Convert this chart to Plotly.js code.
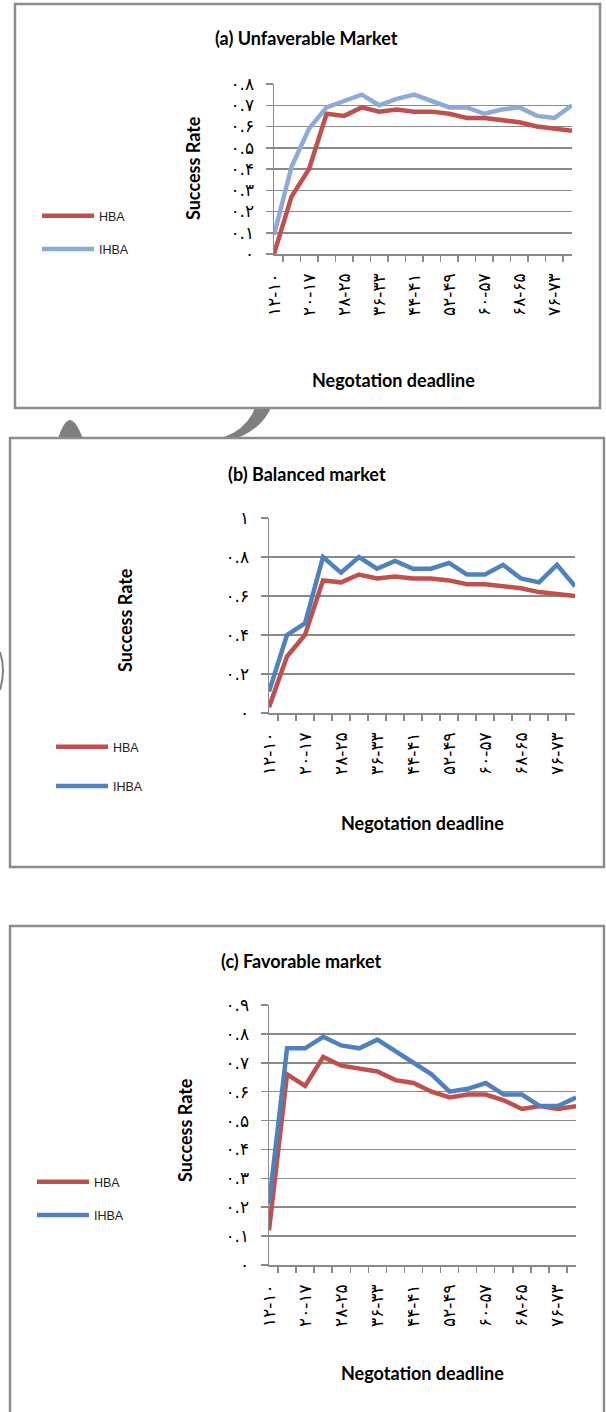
<!DOCTYPE html>
<html>
<head>
<meta charset="utf-8">
<script src="https://cdn.plot.ly/plotly-3.0.1.min.js"></script>
<style>html,body{margin:0;padding:0;background:#fff;}#chart{width:606px;height:1412px;}</style>
</head>
<body>
<div id="chart"></div>
<script>
// ---------------- data ----------------
const categories = ['۱۲-۱۰','۱۶-۱۳','۲۰-۱۷','۲۴-۲۱','۲۸-۲۵','۳۲-۲۹','۳۶-۳۳','۴۰-۳۷','۴۴-۴۱',
                    '۴۸-۴۵','۵۲-۴۹','۵۶-۵۳','۶۰-۵۷','۶۴-۶۱','۶۸-۶۵','۷۲-۶۹','۷۶-۷۳','۸۰-۷۷'];

const hbaUnfav  = [0.00,0.27,0.40,0.66,0.65,0.69,0.67,0.68,0.67,0.67,0.66,0.64,0.64,0.63,0.62,0.60,0.59,0.58];
const ihbaUnfav = [0.09,0.41,0.59,0.69,0.72,0.75,0.70,0.73,0.75,0.72,0.69,0.69,0.66,0.68,0.69,0.65,0.64,0.70];

const hbaBal  = [0.03,0.29,0.40,0.68,0.67,0.71,0.69,0.70,0.69,0.69,0.68,0.66,0.66,0.65,0.64,0.62,0.61,0.60];
const ihbaBal = [0.11,0.40,0.46,0.80,0.72,0.80,0.74,0.78,0.74,0.74,0.77,0.71,0.71,0.76,0.69,0.67,0.76,0.65];

const hbaFav  = [0.12,0.66,0.62,0.72,0.69,0.68,0.67,0.64,0.63,0.60,0.58,0.59,0.59,0.57,0.54,0.55,0.54,0.55];
const ihbaFav = [0.21,0.75,0.75,0.79,0.76,0.75,0.78,0.74,0.70,0.66,0.60,0.61,0.63,0.59,0.59,0.55,0.55,0.58];

const seriesNames = ['HBA','IHBA'];
const panelTitles = ['(a) Unfaverable Market','(b) Balanced market','(c) Favorable market'];
const yAxisTitle = 'Success Rate';
const xAxisTitle = 'Negotation deadline';

const yTickValsA = [0,0.1,0.2,0.3,0.4,0.5,0.6,0.7,0.8];
const yTickTextA = ['۰','۰.۱','۰.۲','۰.۳','۰.۴','۰.۵','۰.۶','۰.۷','۰.۸'];
const yTickValsB = [0,0.2,0.4,0.6,0.8,1];
const yTickTextB = ['۰','۰.۲','۰.۴','۰.۶','۰.۸','۱'];
const yTickValsC = [0,0.1,0.2,0.3,0.4,0.5,0.6,0.7,0.8,0.9];
const yTickTextC = ['۰','۰.۱','۰.۲','۰.۳','۰.۴','۰.۵','۰.۶','۰.۷','۰.۸','۰.۹'];

// ---------------- layout helpers ----------------
const W = 606, H = 1412;
const px = x => x / W;
const py = y => 1 - y / H;

const RED = '#c0504d';
const BLUE_LIGHT = '#8eaad6';
const BLUE = '#4f81bd';
const GRID = '#8a8a8a';
const BOX = '#8c8c8c';
const TITLE_FONT = 'Lato';

const xTickText = categories.map((c, i) => (i % 2 === 0 ? c : ''));

function xAxis(x0, x1, anchor) {
  return {
    domain: [px(x0), px(x1)], anchor: anchor, type: 'category',
    categoryorder: 'array', categoryarray: categories,
    tickmode: 'array', tickvals: categories, ticktext: xTickText,
    tickson: 'boundaries', ticks: 'outside', ticklen: 6, tickwidth: 1.5, tickcolor: GRID,
    tickangle: -90, ticklabelstandoff: 11,
    tickfont: {family: 'DejaVu Sans', size: 17, color: '#000'},
    showline: true, linecolor: GRID, linewidth: 1.5, showgrid: false, zeroline: false,
    fixedrange: true
  };
}
function yAxis(y0, y1, anchor, vals, text, maxv) {
  return {
    domain: [py(y1), py(y0)], anchor: anchor, range: [0, maxv],
    tickmode: 'array', tickvals: vals, ticktext: text,
    ticks: 'outside', ticklen: 7, tickwidth: 1.5, tickcolor: GRID, ticklabelstandoff: 8,
    tickfont: {family: 'DejaVu Sans', size: 17, color: '#000'},
    showline: true, linecolor: GRID, linewidth: 1.5,
    showgrid: true, gridcolor: GRID, gridwidth: 1.5, zeroline: false, fixedrange: true
  };
}

function line(name, y, color, xa, ya, legend) {
  return {
    type: 'scatter', mode: 'lines', name: name, x: categories, y: y,
    xaxis: xa, yaxis: ya, legend: legend, legendgroup: legend + name,
    line: {color: color, width: 4.5}, hoverinfo: 'skip'
  };
}

const data = [
  line(seriesNames[0], hbaUnfav, RED, 'x', 'y', 'legend'),
  line(seriesNames[1], ihbaUnfav, BLUE_LIGHT, 'x', 'y', 'legend'),
  line(seriesNames[0], hbaBal, RED, 'x2', 'y2', 'legend2'),
  line(seriesNames[1], ihbaBal, BLUE, 'x2', 'y2', 'legend2'),
  line(seriesNames[0], hbaFav, RED, 'x3', 'y3', 'legend3'),
  line(seriesNames[1], ihbaFav, BLUE, 'x3', 'y3', 'legend3')
];

function legendAt(x, y, gap) {
  return {
    x: px(x), y: py(y), xref: 'paper', yref: 'paper', xanchor: 'left', yanchor: 'top',
    bgcolor: 'rgba(0,0,0,0)', borderwidth: 0, itemwidth: 52, tracegroupgap: gap,
    font: {family: 'Liberation Sans', size: 12.5, color: '#222'}, itemclick: false, itemdoubleclick: false
  };
}

function ann(text, x, y, size, angle) {
  return {
    text: '<b>' + text + '</b>', x: px(x), y: py(y), xref: 'paper', yref: 'paper',
    showarrow: false, xanchor: 'center', yanchor: 'middle', textangle: angle || 0,
    font: {family: TITLE_FONT, size: size, color: '#000'}
  };
}

function rect(x0, y0, x1, y1) {
  return {type: 'rect', xref: 'paper', yref: 'paper', x0: px(x0), x1: px(x1), y0: py(y1), y1: py(y0),
          line: {color: BOX, width: 2.5}, fillcolor: '#fff', layer: 'below'};
}
function pathP(points, close) {
  return points.map(p => p[0] + ' ' + p.slice(1).map((v, i) => (i % 2 === 0 ? px(v) : py(v))).join(' ')).join(' ') + (close ? ' Z' : '');
}

const shapes = [
  // background decoration peeking between panels
  {type: 'path', xref: 'paper', yref: 'paper', layer: 'below', line: {width: 0}, fillcolor: '#7f7f7f',
   path: pathP([['M', 256, 405], ['Q', 244, 442, 190, 442], ['L', 226, 442], ['Q', 262, 432, 272, 405]], true)},
  {type: 'path', xref: 'paper', yref: 'paper', layer: 'below', line: {width: 0}, fillcolor: '#7f7f7f',
   path: pathP([['M', 57, 442], ['Q', 63, 421, 70, 420], ['Q', 77, 421, 84, 442]], true)},
  {type: 'path', xref: 'paper', yref: 'paper', layer: 'below', line: {color: '#7f7f7f', width: 2}, fillcolor: 'rgba(0,0,0,0)',
   path: pathP([['M', 0, 652], ['Q', 6, 670, 0, 690]], false)},
  // panel frames
  rect(15, 4, 600, 408),
  rect(10, 438, 604, 867),
  rect(10, 926, 604, 1440)
];

const layout = {
  width: W, height: H, margin: {l: 0, r: 0, t: 0, b: 0},
  paper_bgcolor: '#fff', plot_bgcolor: 'rgba(0,0,0,0)', showlegend: true,
  font: {family: TITLE_FONT, color: '#000'},
  xaxis: xAxis(274, 572, 'y'),
  yaxis: yAxis(84, 254, 'x', yTickValsA, yTickTextA, 0.8),
  xaxis2: xAxis(269, 575, 'y2'),
  yaxis2: yAxis(518, 713, 'x2', yTickValsB, yTickTextB, 1),
  xaxis3: xAxis(269, 576, 'y3'),
  yaxis3: yAxis(1005, 1265, 'x3', yTickValsC, yTickTextC, 0.9),
  legend: legendAt(37, 201, 14),
  legend2: legendAt(51, 732, 20),
  legend3: legendAt(32, 1167, 14),
  annotations: [
    ann(panelTitles[0], 306, 38, 18), ann(panelTitles[1], 307, 474, 18), ann(panelTitles[2], 301, 961, 18),
    ann(yAxisTitle, 193, 168, 18, -90), ann(yAxisTitle, 125, 620, 18, -90), ann(yAxisTitle, 185, 1130, 18, -90),
    ann(xAxisTitle, 393, 380, 18), ann(xAxisTitle, 422, 823, 18), ann(xAxisTitle, 422, 1373, 18)
  ],
  shapes: shapes
};

Plotly.newPlot('chart', data, layout, {staticPlot: true, displayModeBar: false});
</script>
</body>
</html>
